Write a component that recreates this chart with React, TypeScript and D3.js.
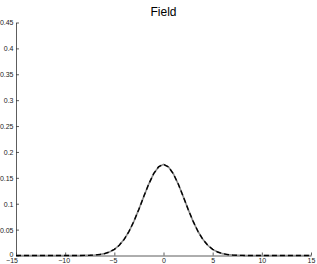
import React, { useEffect, useRef } from "react"
import * as d3 from "d3"

// x samples and field values
const xs = [
  -15, -14.5, -14, -13.5, -13, -12.5, -12, -11.5, -11, -10.5, -10, -9.5, -9, -8.5, -8, -7.5, -7, -6.5, -6, -5.5,
  -5, -4.5, -4, -3.5, -3, -2.5, -2, -1.5, -1, -0.5, 0, 0.5, 1, 1.5, 2, 2.5, 3, 3.5, 4, 4.5,
  5, 5.5, 6, 6.5, 7, 7.5, 8, 8.5, 9, 9.5, 10, 10.5, 11, 11.5, 12, 12.5, 13, 13.5, 14, 14.5, 15,
]
const fieldLeft = [
  0, 0, 0, 0, 0, 0, 0, 0, 0, 0, 0, 0, 0, 0.0001, 0.0002, 0.0004, 0.0009, 0.0018, 0.0036, 0.0067,
  0.0118, 0.0197, 0.0312, 0.0468, 0.0665, 0.0895, 0.1142, 0.138, 0.158, 0.1713, 0.176, 0.1713, 0.158, 0.138, 0.1142, 0.0895, 0.0665, 0.0468, 0.0312, 0.0197,
  0.0118, 0.0067, 0.0036, 0.0018, 0.0009, 0.0004, 0.0002, 0.0001, 0, 0, 0, 0, 0, 0, 0, 0, 0, 0, 0, 0, 0,
]
const fieldDashed = fieldLeft.slice()
const xTicks = [-15, -10, -5, 0, 5, 10, 15]
const yTicks = [0, 0.05, 0.1, 0.15, 0.2, 0.25, 0.3, 0.35, 0.4, 0.45]

const W = 317
const H = 264

export default function App() {
  const ref = useRef<SVGSVGElement>(null)

  useEffect(() => {
    const svg = d3.select(ref.current)
    svg.selectAll("*").remove()

    const margin = { top: 22.5, right: 6, bottom: 8.5, left: 16 }
    const x = d3.scaleLinear().domain([-15, 15]).range([margin.left, W - margin.right])
    const y = d3.scaleLinear().domain([0, 0.45]).range([H - margin.bottom, margin.top])

    const fmt = (d: number) => String(+d.toFixed(2)).replace("-", "\u2212")

    const xAxis = svg.append("g")
      .attr("transform", `translate(0,${H - margin.bottom})`)
      .call(d3.axisBottom(x).tickValues(xTicks).tickSizeInner(-3).tickSizeOuter(0).tickPadding(2.5).tickFormat(fmt as any))
    const yAxis = svg.append("g")
      .attr("transform", `translate(${margin.left},0)`)
      .call(d3.axisLeft(y).tickValues(yTicks).tickSizeInner(-3).tickSizeOuter(0).tickPadding(2.5).tickFormat(fmt as any))

    for (const g of [xAxis, yAxis]) {
      g.selectAll("path,line").attr("stroke", "#333").attr("stroke-width", 0.8)
      g.selectAll("text").attr("fill", "#222").attr("font-size", 7).attr("font-family", "Liberation Sans, Arial, sans-serif")
    }
    yAxis.selectAll("text").attr("dy", (d: any) => (d === 0 ? "0.1em" : "0.35em"))
    xAxis.selectAll("text")
      .attr("dy", "0.71em")
      .attr("dx", (d: any) => (d === -15 ? -4.5 : d < 0 ? -1.5 : 0))

    const line = (vals: number[]) =>
      d3.line<number>().x((_, i) => x(xs[i])).y(d => y(d))(vals)

    svg.append("path")
      .attr("d", line(fieldLeft))
      .attr("fill", "none")
      .attr("stroke", "#8c8c8c")
      .attr("stroke-width", 1.6)

    svg.append("path")
      .attr("d", line(fieldDashed))
      .attr("fill", "none")
      .attr("stroke", "#000")
      .attr("stroke-width", 1.4)
      .attr("stroke-dasharray", "5,3")

    svg.append("text")
      .attr("x", x(0))
      .attr("y", 16)
      .attr("text-anchor", "middle")
      .attr("font-size", 12)
      .attr("font-family", "Liberation Sans, Arial, sans-serif")
      .attr("fill", "#000")
      .text("Field")
  }, [])

  return (
    <svg
      ref={ref}
      width={W}
      height={H}
      style={{ position: "absolute", left: 0, top: 0, background: "#fff" }}
    />
  )
}
